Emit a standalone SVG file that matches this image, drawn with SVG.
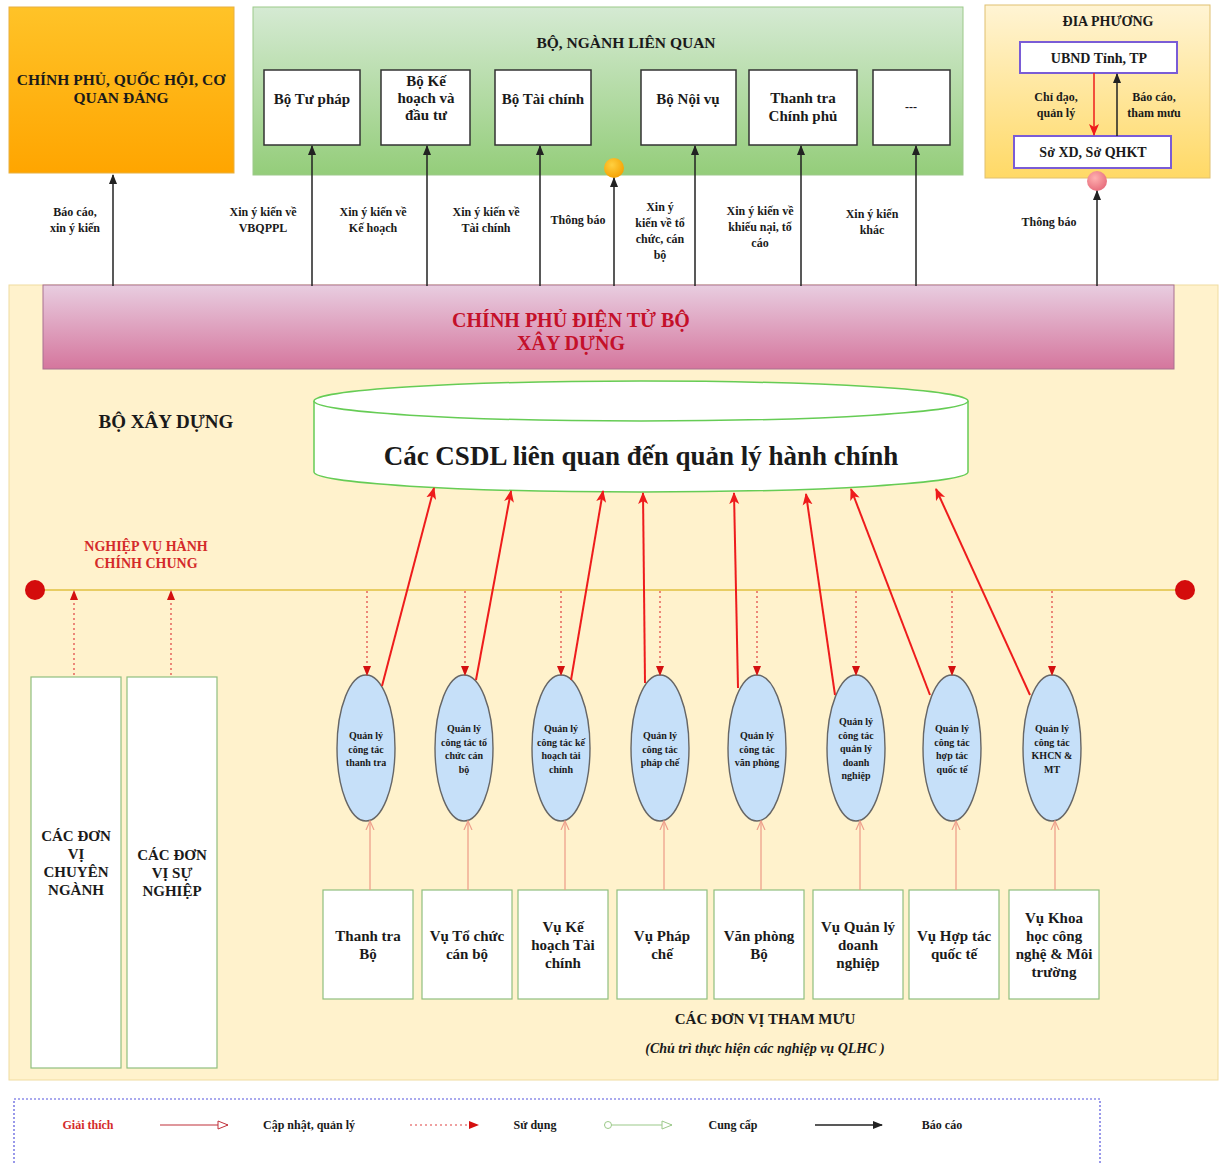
<svg xmlns="http://www.w3.org/2000/svg" width="1219" height="1164" viewBox="0 0 1219 1164">
<style>
text{font-family:"Liberation Serif","Times New Roman",serif;font-weight:bold;fill:#1a1a1a;text-anchor:middle;stroke:none}
.box{fill:#fff;stroke:#333;stroke-width:1.5}
.gbox{fill:#fff;stroke:#8fbf7f;stroke-width:1.2}
.pbox{fill:#fff;stroke:#7a5cd6;stroke-width:2}
.ell ellipse{fill:#c6e0f9;stroke:#666;stroke-width:1.4}
.lbl{font-size:12px}
.blk{stroke:#222;stroke-width:1.5;fill:none}
.red{stroke:#ee1c1c;stroke-width:2;fill:none}
.dot{stroke:#e04040;stroke-width:1.2;stroke-dasharray:2 3;fill:none}
.pink{stroke:#eea08c;stroke-width:1.3;fill:none}
.ell text{font-size:10px}
.bb text{font-size:15px}
.leg{font-size:12px}
</style>
<defs>
<linearGradient id="gOr" x1="0" y1="0" x2="0" y2="1"><stop offset="0" stop-color="#ffc328"/><stop offset="1" stop-color="#ffa500"/></linearGradient>
<linearGradient id="gGr" x1="0" y1="0" x2="0" y2="1"><stop offset="0" stop-color="#d5ead3"/><stop offset="1" stop-color="#94cd7a"/></linearGradient>
<linearGradient id="gYe" x1="0" y1="0" x2="0" y2="1"><stop offset="0" stop-color="#fff4d4"/><stop offset="1" stop-color="#ffd966"/></linearGradient>
<linearGradient id="gPk" x1="0" y1="0" x2="0" y2="1"><stop offset="0" stop-color="#e8cde0"/><stop offset="1" stop-color="#d5769d"/></linearGradient>
<radialGradient id="gOc" cx="0.4" cy="0.35" r="0.7"><stop offset="0" stop-color="#ffd040"/><stop offset="1" stop-color="#f5a000"/></radialGradient>
<radialGradient id="gPc" cx="0.4" cy="0.35" r="0.7"><stop offset="0" stop-color="#ffb0b0"/><stop offset="1" stop-color="#e66a7a"/></radialGradient>
<marker id="mB" markerWidth="10" markerHeight="10" refX="9" refY="5" orient="auto" markerUnits="userSpaceOnUse"><path d="M0,1 L10,5 L0,9 z" fill="#222"/></marker>
<marker id="mR" markerWidth="12" markerHeight="12" refX="11" refY="6" orient="auto" markerUnits="userSpaceOnUse"><path d="M0,1 L12,6 L0,11 L3,6 z" fill="#ee1c1c"/></marker>
<marker id="mD" markerWidth="10" markerHeight="10" refX="9" refY="5" orient="auto" markerUnits="userSpaceOnUse"><path d="M0,1 L10,5 L0,9 z" fill="#d41010"/></marker>
<marker id="mP" markerWidth="10" markerHeight="10" refX="9" refY="5" orient="auto" markerUnits="userSpaceOnUse"><path d="M0,1 L9,5 L0,9" fill="none" stroke="#eea08c" stroke-width="1.2"/></marker>
<marker id="mLR" markerWidth="12" markerHeight="12" refX="11" refY="6" orient="auto" markerUnits="userSpaceOnUse"><path d="M1,2 L11,6 L1,10 z" fill="#fff" stroke="#c0303a" stroke-width="1"/></marker>
<marker id="mLG" markerWidth="12" markerHeight="12" refX="11" refY="6" orient="auto" markerUnits="userSpaceOnUse"><path d="M1,2 L11,6 L1,10 z" fill="#fff" stroke="#9cc98a" stroke-width="1"/></marker>
<marker id="mLGs" markerWidth="10" markerHeight="10" refX="1" refY="5" orient="auto" markerUnits="userSpaceOnUse"><circle cx="5" cy="5" r="3.5" fill="#fff" stroke="#9cc98a" stroke-width="1"/></marker>
</defs>
<rect width="1219" height="1164" fill="#fff"/>

<!-- containers -->
<g id="bxd">
<rect x="9" y="285" width="1209" height="795" fill="#fff2cc" stroke="#f0dca0" stroke-width="1"/>
<text x="166" y="428" font-size="19">BỘ XÂY DỰNG</text>
</g>

<g id="chinhphu">
<rect x="9" y="7" width="225" height="166" fill="url(#gOr)" stroke="#e8b040" stroke-width="1"/>
<text x="121" y="85" font-size="15.5"><tspan x="121">CHÍNH PHỦ, QUỐC HỘI, CƠ</tspan><tspan x="121" dy="18">QUAN ĐẢNG</tspan></text>
</g>

<g id="bonganh">
<rect x="253" y="7" width="710" height="168" fill="url(#gGr)" stroke="#9cc98a" stroke-width="1"/>
<text x="626" y="48" font-size="15.5">BỘ, NGÀNH LIÊN QUAN</text>
</g>
<g id="botuphap"><rect class="box" x="264" y="70" width="96" height="75"/><text x="312" y="104" font-size="15">Bộ Tư pháp</text></g>
<g id="bokhdt"><rect class="box" x="381" y="70" width="89" height="75"/><text x="426" y="86" font-size="15"><tspan x="426">Bộ Kế</tspan><tspan x="426" dy="17">hoạch và</tspan><tspan x="426" dy="17">đầu tư</tspan></text></g>
<g id="botaichinh"><rect class="box" x="495" y="70" width="96" height="75"/><text x="543" y="104" font-size="15">Bộ Tài chính</text></g>
<g id="bonoivu"><rect class="box" x="641" y="70" width="95" height="75"/><text x="688" y="104" font-size="15">Bộ Nội vụ</text></g>
<g id="thanhtracp"><rect class="box" x="749" y="70" width="108" height="75"/><text x="803" y="103" font-size="15"><tspan x="803">Thanh tra</tspan><tspan x="803" dy="18">Chính phủ</tspan></text></g>
<g id="khac"><rect class="box" x="873" y="70" width="77" height="75"/><text x="911" y="111" font-size="12">---</text></g>
<g id="oc"><circle cx="614" cy="168" r="10" fill="url(#gOc)"/></g>

<g id="diaphuong">
<rect x="985" y="5" width="225" height="173" fill="url(#gYe)" stroke="#e0c070" stroke-width="1"/>
<text x="1108" y="26" font-size="14">ĐIA PHƯƠNG</text>
</g>
<g id="ubnd"><rect class="pbox" x="1020" y="42" width="157" height="31"/><text x="1099" y="63" font-size="14">UBND Tỉnh, TP</text></g>
<g id="soxd"><rect class="pbox" x="1014" y="136" width="157" height="32"/><text x="1093" y="157" font-size="14">Sở XD, Sở QHKT</text></g>
<g id="pc"><circle cx="1097" cy="181" r="10" fill="url(#gPc)"/></g>

<g id="cpdt">
<rect x="43" y="285" width="1131" height="84" fill="url(#gPk)" stroke="#a87090" stroke-width="1"/>
<text x="571" y="327" font-size="20" style="fill:#c4102a"><tspan x="571">CHÍNH PHỦ ĐIỆN TỬ BỘ</tspan><tspan x="571" dy="23">XÂY DỰNG</tspan></text>
</g>

<g id="csdl">
<path d="M314,401 L314,472 A327,20 0 0 0 968,472 L968,401" fill="#fff" stroke="#66cc55" stroke-width="1.5"/>
<ellipse cx="641" cy="401" rx="327" ry="20" fill="#fff" stroke="#66cc55" stroke-width="1.5"/>
<text x="641" y="465" font-size="27">Các CSDL liên quan đến quản lý hành chính</text>
</g>

<g id="nvhc">
<text x="146" y="551" font-size="14" style="fill:#d42a2a"><tspan x="146">NGHIỆP VỤ HÀNH</tspan><tspan x="146" dy="17">CHÍNH CHUNG</tspan></text>
<line x1="35" y1="590" x2="1185" y2="590" stroke="#e0c040" stroke-width="1.5"/>
<circle cx="35" cy="590" r="10" fill="#d40c0c"/>
<circle cx="1185" cy="590" r="10" fill="#d40c0c"/>
</g>

<g id="chuyennganh"><rect class="gbox" x="31" y="677" width="90" height="391"/><text x="76" y="841" font-size="15"><tspan x="76">CÁC ĐƠN</tspan><tspan x="76" dy="18">VỊ</tspan><tspan x="76" dy="18">CHUYÊN</tspan><tspan x="76" dy="18">NGÀNH</tspan></text></g>
<g id="sunghiep"><rect class="gbox" x="127" y="677" width="90" height="391"/><text x="172" y="860" font-size="15"><tspan x="172">CÁC ĐƠN</tspan><tspan x="172" dy="18">VỊ SỰ</tspan><tspan x="172" dy="18">NGHIỆP</tspan></text></g>

<!-- ellipses -->
<g id="e1" class="ell"><ellipse cx="366" cy="748" rx="29" ry="73"/><text y="739"><tspan x="366">Quản lý</tspan><tspan x="366" dy="13.5">công tác</tspan><tspan x="366" dy="13.5">thanh tra</tspan></text></g>
<g id="e2" class="ell"><ellipse cx="464" cy="748" rx="29" ry="73"/><text y="732"><tspan x="464">Quản lý</tspan><tspan x="464" dy="13.5">công tác tổ</tspan><tspan x="464" dy="13.5">chức cán</tspan><tspan x="464" dy="13.5">bộ</tspan></text></g>
<g id="e3" class="ell"><ellipse cx="561" cy="748" rx="29" ry="73"/><text y="732"><tspan x="561">Quản lý</tspan><tspan x="561" dy="13.5">công tác kế</tspan><tspan x="561" dy="13.5">hoạch tài</tspan><tspan x="561" dy="13.5">chính</tspan></text></g>
<g id="e4" class="ell"><ellipse cx="660" cy="748" rx="29" ry="73"/><text y="739"><tspan x="660">Quản lý</tspan><tspan x="660" dy="13.5">công tác</tspan><tspan x="660" dy="13.5">pháp chế</tspan></text></g>
<g id="e5" class="ell"><ellipse cx="757" cy="748" rx="29" ry="73"/><text y="739"><tspan x="757">Quản lý</tspan><tspan x="757" dy="13.5">công tác</tspan><tspan x="757" dy="13.5">văn phòng</tspan></text></g>
<g id="e6" class="ell"><ellipse cx="856" cy="748" rx="29" ry="73"/><text y="725"><tspan x="856">Quản lý</tspan><tspan x="856" dy="13.5">công tác</tspan><tspan x="856" dy="13.5">quản lý</tspan><tspan x="856" dy="13.5">doanh</tspan><tspan x="856" dy="13.5">nghiệp</tspan></text></g>
<g id="e7" class="ell"><ellipse cx="952" cy="748" rx="29" ry="73"/><text y="732"><tspan x="952">Quản lý</tspan><tspan x="952" dy="13.5">công tác</tspan><tspan x="952" dy="13.5">hợp tác</tspan><tspan x="952" dy="13.5">quốc tế</tspan></text></g>
<g id="e8" class="ell"><ellipse cx="1052" cy="748" rx="29" ry="73"/><text y="732"><tspan x="1052">Quản lý</tspan><tspan x="1052" dy="13.5">công tác</tspan><tspan x="1052" dy="13.5">KHCN &amp;</tspan><tspan x="1052" dy="13.5">MT</tspan></text></g>

<!-- bottom boxes -->
<g id="b1" class="bb"><rect class="gbox" x="323" y="890" width="90" height="109"/><text y="941"><tspan x="368">Thanh tra</tspan><tspan x="368" dy="18">Bộ</tspan></text></g>
<g id="b2" class="bb"><rect class="gbox" x="422" y="890" width="90" height="109"/><text y="941"><tspan x="467">Vụ Tổ chức</tspan><tspan x="467" dy="18">cán bộ</tspan></text></g>
<g id="b3" class="bb"><rect class="gbox" x="518" y="890" width="90" height="109"/><text y="932"><tspan x="563">Vụ Kế</tspan><tspan x="563" dy="18">hoạch Tài</tspan><tspan x="563" dy="18">chính</tspan></text></g>
<g id="b4" class="bb"><rect class="gbox" x="617" y="890" width="90" height="109"/><text y="941"><tspan x="662">Vụ Pháp</tspan><tspan x="662" dy="18">chế</tspan></text></g>
<g id="b5" class="bb"><rect class="gbox" x="714" y="890" width="90" height="109"/><text y="941"><tspan x="759">Văn phòng</tspan><tspan x="759" dy="18">Bộ</tspan></text></g>
<g id="b6" class="bb"><rect class="gbox" x="813" y="890" width="90" height="109"/><text y="932"><tspan x="858">Vụ Quản lý</tspan><tspan x="858" dy="18">doanh</tspan><tspan x="858" dy="18">nghiệp</tspan></text></g>
<g id="b7" class="bb"><rect class="gbox" x="909" y="890" width="90" height="109"/><text y="941"><tspan x="954">Vụ Hợp tác</tspan><tspan x="954" dy="18">quốc tế</tspan></text></g>
<g id="b8" class="bb"><rect class="gbox" x="1009" y="890" width="90" height="109"/><text y="923"><tspan x="1054">Vụ Khoa</tspan><tspan x="1054" dy="18">học công</tspan><tspan x="1054" dy="18">nghệ &amp; Môi</tspan><tspan x="1054" dy="18">trường</tspan></text></g>

<g id="thammuu">
<text x="765" y="1024" font-size="15">CÁC ĐƠN VỊ THAM MƯU</text>
<text x="765" y="1053" font-size="14" font-style="italic">(Chủ trì thực hiện các nghiệp vụ QLHC )</text>
</g>

<!-- connectors -->
<g id="connectors">
<g class="blk" marker-end="url(#mB)">
<line x1="113" y1="286" x2="113" y2="175"/>
<line x1="312" y1="286" x2="312" y2="146"/>
<line x1="427" y1="286" x2="427" y2="146"/>
<line x1="540" y1="286" x2="540" y2="146"/>
<line x1="614" y1="286" x2="614" y2="178"/>
<line x1="695" y1="286" x2="695" y2="146"/>
<line x1="801" y1="286" x2="801" y2="146"/>
<line x1="916" y1="286" x2="916" y2="146"/>
<line x1="1097" y1="286" x2="1097" y2="191"/>
<line x1="1117" y1="136" x2="1117" y2="74"/>
</g>
<line x1="1094" y1="73" x2="1094" y2="135" stroke="#ee1c1c" stroke-width="1.5" marker-end="url(#mR)"/>
<g class="red" marker-end="url(#mR)">
<line x1="382" y1="686" x2="434" y2="488"/>
<line x1="476" y1="680" x2="511" y2="491"/>
<line x1="571" y1="680" x2="603" y2="491"/>
<line x1="645" y1="683" x2="643" y2="493"/>
<line x1="738" y1="688" x2="734" y2="493"/>
<line x1="835" y1="695" x2="806" y2="494"/>
<line x1="930" y1="695" x2="851" y2="489"/>
<line x1="1030" y1="695" x2="936" y2="489"/>
</g>
<g class="dot" marker-end="url(#mD)">
<line x1="74" y1="675" x2="74" y2="591"/>
<line x1="171" y1="675" x2="171" y2="591"/>
<line x1="367" y1="591" x2="367" y2="675"/>
<line x1="465" y1="591" x2="465" y2="675"/>
<line x1="561" y1="591" x2="561" y2="675"/>
<line x1="660" y1="591" x2="660" y2="675"/>
<line x1="757" y1="591" x2="757" y2="675"/>
<line x1="856" y1="591" x2="856" y2="675"/>
<line x1="952" y1="591" x2="952" y2="675"/>
<line x1="1052" y1="591" x2="1052" y2="675"/>
</g>
<g class="pink" marker-end="url(#mP)">
<line x1="370" y1="890" x2="370" y2="821"/>
<line x1="468" y1="890" x2="468" y2="821"/>
<line x1="565" y1="890" x2="565" y2="821"/>
<line x1="664" y1="890" x2="664" y2="821"/>
<line x1="761" y1="890" x2="761" y2="821"/>
<line x1="860" y1="890" x2="860" y2="821"/>
<line x1="956" y1="890" x2="956" y2="821"/>
<line x1="1055" y1="890" x2="1055" y2="821"/>
</g>
<g class="lbl">
<text y="216"><tspan x="75">Báo cáo,</tspan><tspan x="75" dy="16">xin ý kiến</tspan></text>
<text y="216"><tspan x="263">Xin ý kiến về</tspan><tspan x="263" dy="16">VBQPPL</tspan></text>
<text y="216"><tspan x="373">Xin ý kiến về</tspan><tspan x="373" dy="16">Kế hoạch</tspan></text>
<text y="216"><tspan x="486">Xin ý kiến về</tspan><tspan x="486" dy="16">Tài chính</tspan></text>
<text x="578" y="224">Thông báo</text>
<text y="211"><tspan x="660">Xin ý</tspan><tspan x="660" dy="16">kiến về tổ</tspan><tspan x="660" dy="16">chức, cán</tspan><tspan x="660" dy="16">bộ</tspan></text>
<text y="215"><tspan x="760">Xin ý kiến về</tspan><tspan x="760" dy="16">khiếu nại, tố</tspan><tspan x="760" dy="16">cáo</tspan></text>
<text y="218"><tspan x="872">Xin ý kiến</tspan><tspan x="872" dy="16">khác</tspan></text>
<text x="1049" y="226">Thông báo</text>
<text y="101"><tspan x="1056">Chỉ đạo,</tspan><tspan x="1056" dy="16">quản lý</tspan></text>
<text y="101"><tspan x="1154">Báo cáo,</tspan><tspan x="1154" dy="16">tham mưu</tspan></text>
</g>
</g>

<!-- legend -->
<g id="legend">
<rect x="14" y="1099" width="1086" height="80" fill="#fff" stroke="#5555dd" stroke-width="1.2" stroke-dasharray="2 2"/>
<text class="leg" x="88" y="1129" style="fill:#d42a2a">Giải thích</text>
<line x1="160" y1="1125" x2="228" y2="1125" stroke="#c0303a" stroke-width="1.2" marker-end="url(#mLR)"/>
<text class="leg" x="309" y="1129">Cập nhật, quản lý</text>
<line x1="410" y1="1125" x2="478" y2="1125" class="dot" marker-end="url(#mD)"/>
<text class="leg" x="535" y="1129">Sử dụng</text>
<line x1="604" y1="1125" x2="672" y2="1125" stroke="#9cc98a" stroke-width="1.2" marker-start="url(#mLGs)" marker-end="url(#mLG)"/>
<text class="leg" x="733" y="1129">Cung cấp</text>
<line x1="815" y1="1125" x2="882" y2="1125" class="blk" marker-end="url(#mB)"/>
<text class="leg" x="942" y="1129">Báo cáo</text>
</g>
</svg>
